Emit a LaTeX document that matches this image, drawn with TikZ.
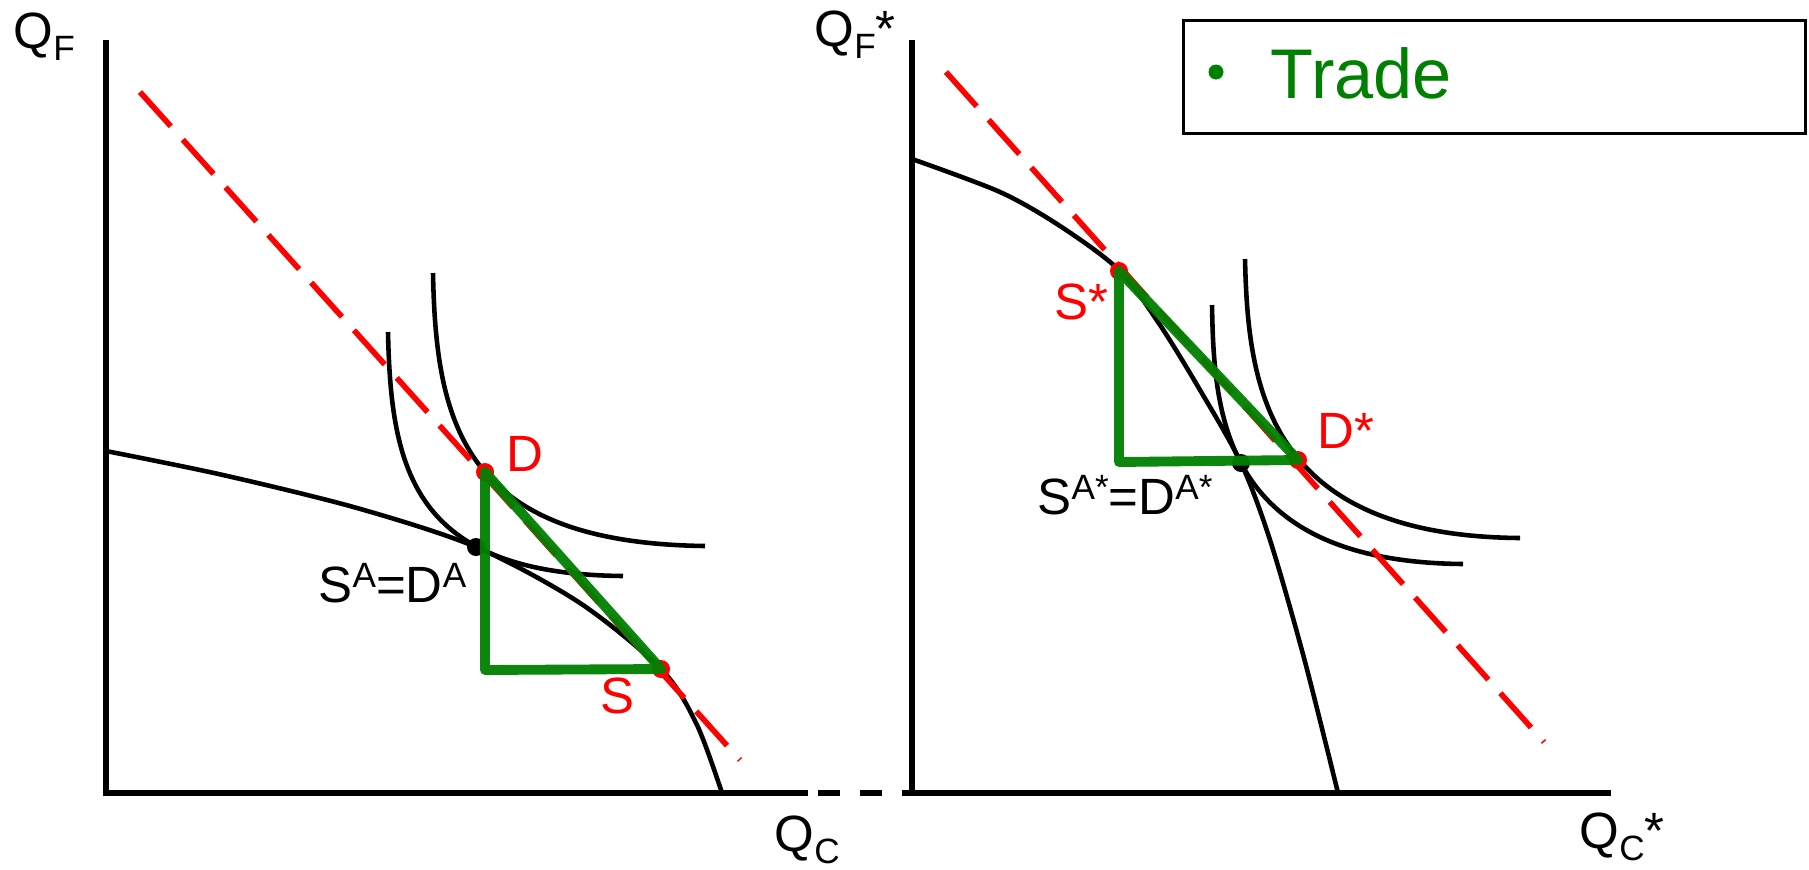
\documentclass[tikz,border=0pt]{standalone}
\usepackage{fontspec}
\setmainfont{Liberation Sans}
\usepackage{xcolor}
\definecolor{tradegreen}{RGB}{0,128,0}
\definecolor{pricered}{RGB}{255,0,0}
\newcommand{\supx}[1]{\raisebox{4pt}{\fontsize{10}{10}\selectfont #1}}
\newcommand{\subx}[1]{\raisebox{-3.6pt}{\fontsize{10}{10}\selectfont #1}}
\usetikzlibrary{calc}

\begin{document}
\begin{tikzpicture}[x=0.01cm, y=-0.01cm,
    axis/.style={line width=1.7pt, line join=miter},
    curve/.style={line width=1.3pt},
    price/.style={pricered, line width=1.6pt, dash pattern=on 0.46cm off 0.18cm},
    trade/.style={tradegreen, opacity=0.95, line width=2.8pt, line join=round, line cap=round},
    lbl/.style={font=\fontsize{14.5}{17}\selectfont, inner sep=0pt, anchor=base west},
    redlbl/.style={lbl, pricered}]
    \useasboundingbox (0,0) rectangle (1809,869);

    % Home country axes
    \draw[axis] (106,40) -- (106,793) -- (808,793);
    \draw[axis, dash pattern=on 0.22cm off 0.2cm] (818,793) -- (912,793);
    \node[lbl] (qf) at (13,48) {Q\subx{F}};
    \node[lbl] (qc) at (774,851) {Q\subx{C}};

    % Foreign country axes
    \draw[axis] (912,40) -- (912,793) -- (1611,793);
    \node[lbl] (qfs) at (814,46) {Q\subx{F}*};
    \node[lbl] (qcs) at (1579,848) {Q\subx{C}*};

    % Legend
    \draw[line width=0.85pt] (1183,20) rectangle (1805,133);
    \fill[tradegreen] (1216,72) circle[radius=0.075cm];
    \node[font=\fontsize{20}{24}\selectfont, text=tradegreen, inner sep=0pt, anchor=base west] (trade) at (1270,98) {Trade};

    % Home: PPF and indifference curves
    \draw[curve] plot[smooth] coordinates {(106,451) (223,475) (357,508) (476,547) (580,603) (662,670) (697,725) (722,793)};
    \draw[curve] (388,332) .. controls (391,470) and (413,574) .. (623,576);
    \draw[curve] (433,273) .. controls (436,427) and (465,543) .. (705,546);

    % Foreign: PPF and indifference curves
    \draw[curve] plot[smooth] coordinates {(912,159) (1000,192) (1060,226) (1119,270) (1160,325) (1200,390) (1241,463) (1270,540) (1304,658) (1338,793)};
    \draw[curve] (1212,305) .. controls (1214,415) and (1222,562) .. (1463,564);
    \draw[curve] (1245,259) .. controls (1248,385) and (1265,536) .. (1520,538);

    % Price lines
    \draw[price] (140,92) -- (740,760);
    \draw[price] (946,72) -- (1544,742);

    % Points
    \coordinate (aut) at (476,547);
    \coordinate (d) at (485,472);
    \coordinate (s) at (661,669);
    \coordinate (hc) at (485,670);
    \coordinate (auts) at (1241,463);
    \coordinate (ss) at (1119,271);
    \coordinate (ds) at (1298,460);
    \coordinate (fc) at (1119,462);

    \fill (aut) circle[radius=0.09cm];
    \fill (auts) circle[radius=0.09cm];
    \fill[pricered] (d) circle[radius=0.09cm];
    \fill[pricered] (s) circle[radius=0.09cm];
    \fill[pricered] (ss) circle[radius=0.09cm];
    \fill[pricered] (ds) circle[radius=0.09cm];

    % Trade triangles
    \draw[trade] (d) -- (hc) -- (s) -- cycle;
    \draw[trade] (ss) -- (fc) -- (ds) -- cycle;

    % Labels
    \node[redlbl] (dlbl) at (506,471) {D};
    \node[redlbl] (slbl) at (600,713) {S};
    \node[lbl] (autlbl) at (318,602) {S\supx{A}=D\supx{A}};
    \node[redlbl] (sslbl) at (1054,319) {S*};
    \node[redlbl] (dslbl) at (1317,448) {D*};
    \node[lbl] (autslbl) at (1037,514) {S\supx{A*}=D\supx{A*}};
\end{tikzpicture}
\end{document}
